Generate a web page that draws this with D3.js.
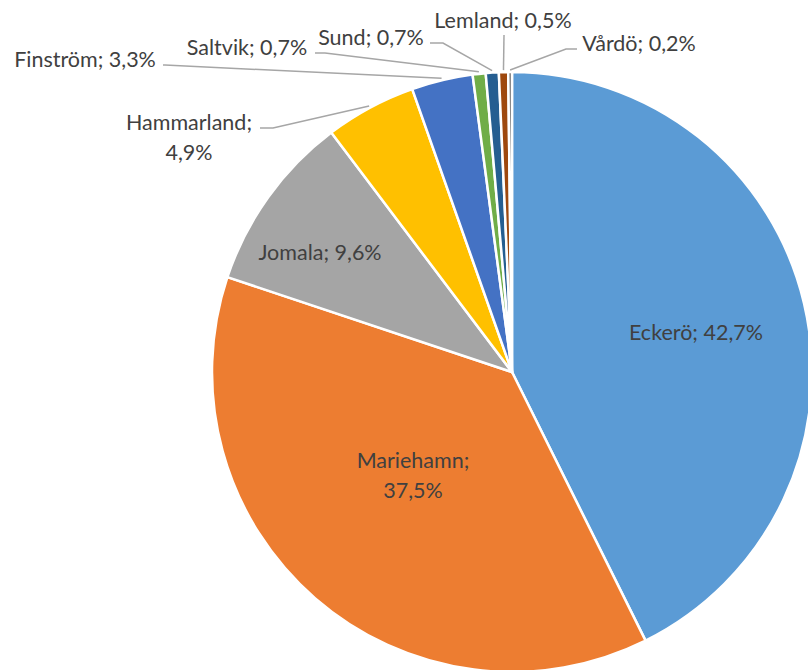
<!DOCTYPE html>
<html>
<head>
<meta charset="utf-8">
<script src="https://cdn.jsdelivr.net/npm/d3@7"></script>
<style>
  html, body { margin: 0; padding: 0; background: #fff; }
  svg { display: block; }
  text { font-family: Lato, "Open Sans", sans-serif; fill: #404040; }
</style>
</head>
<body>
<svg id="chart" width="808" height="670"></svg>
<script>
// Share of each municipality (%)
const categories = ["Eckerö", "Mariehamn", "Jomala", "Hammarland", "Finström", "Saltvik", "Sund", "Lemland", "Vårdö"];
const values = [42.7, 37.5, 9.6, 4.9, 3.3, 0.7, 0.7, 0.5, 0.2];
const colors = ["#5B9BD5", "#ED7D31", "#A5A5A5", "#FFC000", "#4472C4", "#70AD47", "#255E91", "#9E480E", "#636363"];

// Label placement: inside labels sit at a fixed spot in the slice,
// outside labels get a leader line back to the slice edge.
const labelLayout = [
  { x: 696, y: 332, lines: 1 },
  { x: 413, y: 460, lines: 2 },
  { x: 320, y: 252, lines: 1 },
  { x: 189, y: 122, lines: 2, anchorX: 260, elbowX: 273, out: true },
  { x: 85,  y: 59,  lines: 1, anchorX: 163, elbowX: 165, out: true },
  { x: 247, y: 47,  lines: 1, anchorX: 315, elbowX: 325, out: true },
  { x: 371, y: 37,  lines: 1, anchorX: 430, elbowX: 443, out: true },
  { x: 503, y: 20,  lines: 1, anchorX: 504, elbowX: 504, out: true, vertical: true },
  { x: 639, y: 43,  lines: 1, anchorX: 577, elbowX: 566, out: true }
];

const fmt = v => d3.format(".1f")(v).replace(".", ",") + "%";

const svg = d3.select("#chart");
const cx = 512, cy = 372, r = 300;

const pie = d3.pie().sort(null).value(d => d.value);
const data = categories.map((c, i) => ({ name: c, value: values[i], color: colors[i], layout: labelLayout[i] }));
const arcs = pie(data);

const arc = d3.arc().innerRadius(0).outerRadius(r);
const g = svg.append("g").attr("transform", `translate(${cx},${cy})`);

g.selectAll("path.slice")
  .data(arcs)
  .enter().append("path")
  .attr("class", "slice")
  .attr("d", arc)
  .attr("fill", d => d.data.color)
  .attr("stroke", "#fff")
  .attr("stroke-width", 2.5)
  .attr("stroke-linejoin", "round");

// Leader lines for the small slices
const edgeArc = d3.arc().innerRadius(r + 2).outerRadius(r + 2);
arcs.forEach(d => {
  const L = d.data.layout;
  if (!L.out) return;
  const [ex, ey] = edgeArc.centroid(d);
  const px = ex + cx, py = ey + cy;
  let pts;
  if (L.vertical) {
    pts = [[L.anchorX, 35], [px, py]];
  } else {
    const ly = L.y + 6;
    pts = [[L.anchorX, ly], [L.elbowX, ly], [px, py]];
  }
  svg.append("path")
    .attr("d", d3.line()(pts))
    .attr("fill", "none")
    .attr("stroke", "#A6A6A6")
    .attr("stroke-width", 1.5);
});

// Data labels
arcs.forEach(d => {
  const L = d.data.layout;
  const t = svg.append("text")
    .attr("text-anchor", "middle")
    .attr("font-size", 21.5);
  if (L.lines === 2) {
    t.append("tspan").attr("x", L.x).attr("y", L.y).attr("dy", "0.35em").text(d.data.name + ";");
    t.append("tspan").attr("x", L.x).attr("y", L.y + 30).attr("dy", "0.35em").text(fmt(d.data.value));
  } else {
    t.attr("x", L.x).attr("y", L.y).attr("dy", "0.35em").text(d.data.name + "; " + fmt(d.data.value));
  }
});
</script>
</body>
</html>
